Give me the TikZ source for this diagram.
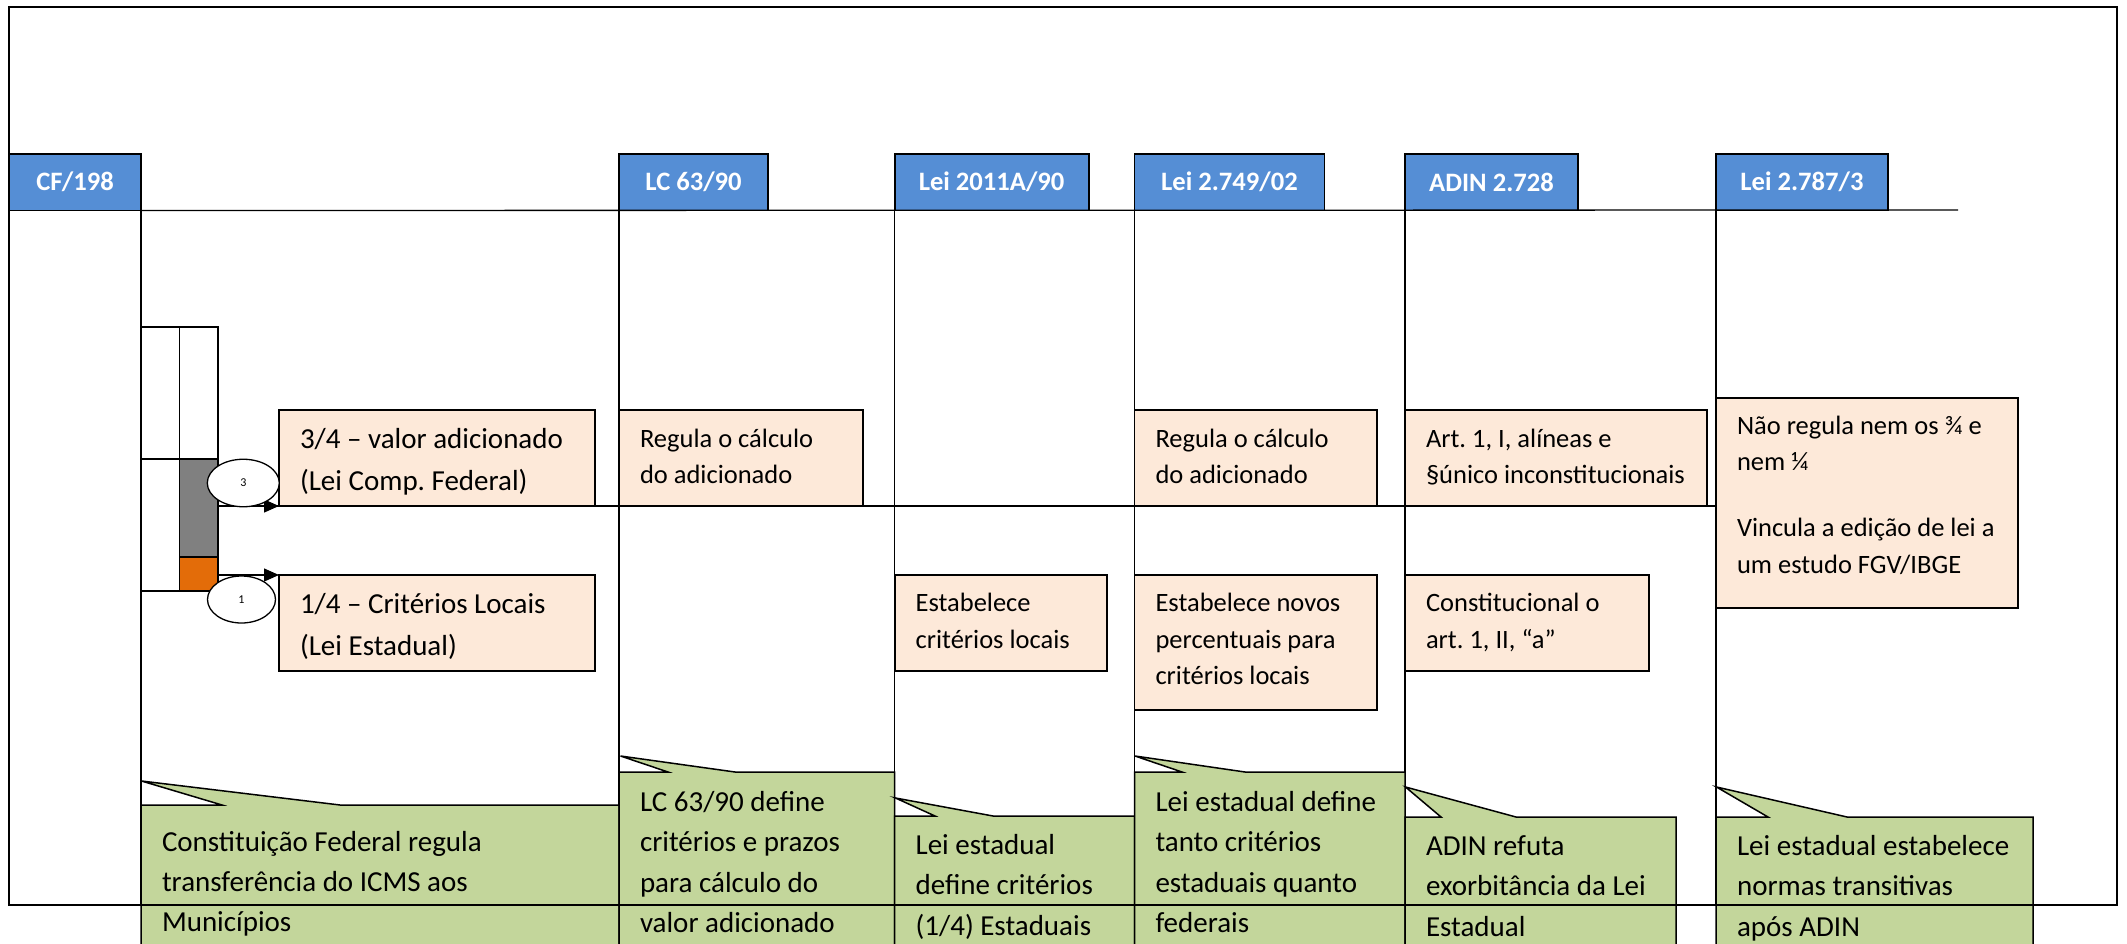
\documentclass[tikz,border=0pt]{standalone}
\usepackage{fontspec}
\setmainfont{Carlito}
\usetikzlibrary{arrows.meta,shapes.geometric}
\definecolor{hblue}{RGB}{85,142,213}
\definecolor{peach}{RGB}{253,233,217}
\definecolor{cgreen}{RGB}{195,214,155}
\definecolor{bargrey}{RGB}{128,128,128}
\definecolor{barorange}{RGB}{227,108,9}
\newcommand{\fl}[1]{\rule{0pt}{#1pt}}
\frenchspacing
\begin{document}
\begin{tikzpicture}[x=1pt,y=-1pt,
  ln/.style={line width=1.3pt, draw=black},
  hdr/.style={draw=black, line width=1.8pt, fill=hblue, text=white, font=\fontsize{26.6}{32}\selectfont\bfseries, inner sep=0pt, outer sep=0pt, anchor=north west, minimum height=56.5pt},
  pbox/.style={draw=black, line width=1.8pt, fill=peach, inner sep=0pt, outer sep=0pt, anchor=north west},
  ta/.style={anchor=north west, inner sep=0pt, outer sep=0pt, align=left, font=\fontsize{29}{40.5}\selectfont},
  tb/.style={anchor=north west, inner sep=0pt, outer sep=0pt, align=left, font=\fontsize{26.5}{36.5}\selectfont},
  callout/.style={draw=black, line width=1.5pt, fill=cgreen, line join=miter},
  barcell/.style={draw=black, line width=1.5pt, inner sep=0pt, outer sep=0pt, anchor=north west, minimum width=38.5pt},
  oval/.style={ellipse, draw=black, line width=1.3pt, fill=white, inner sep=0pt, outer sep=0pt, font=\fontsize{12}{14}\selectfont},
  arr/.style={line width=1.3pt, -{Triangle[length=15pt,width=13pt]}}
]
\useasboundingbox (0,0) rectangle (2127,944);
\clip (0,0) rectangle (2127,944);
\fill[white] (0,0) rectangle (2127,944);

% headers
\node[hdr, minimum width=132pt] (hCF) at (9,154) {CF/198};
\node[hdr, minimum width=149pt] (hLC) at (619,154) {LC 63/90};
\node[hdr, minimum width=194pt] (hLA) at (894.6,154) {Lei 2011A/90};
\node[hdr, minimum width=190pt] (hLB) at (1134.5,154) {Lei 2.749/02};
\node[hdr, minimum width=173pt] (hAD) at (1405,154) {ADIN 2.728};
\node[hdr, minimum width=172pt] (hLD) at (1716,154) {Lei 2.787/3};

% timeline and vertical lines
\coordinate (tlend) at (1958,210);
\draw[ln] (hCF.south east) -- (tlend);
\draw[ln] (hCF.south east) -- (141,905);
\draw[ln] (hLC.south west) -- (619,905);
\draw[ln] (hLA.south west) -- (894.6,905);
\draw[ln] (hLB.south west) -- (1134.5,905);
\draw[ln] (hAD.south west) -- (1405,905);
\draw[ln] (hLD.south west) -- (1716,905);

% middle line
\coordinate (mlA) at (218,506);
\coordinate (mlB) at (1716,506);
\draw[ln] (mlA) -- (mlB);

% bar
\node[barcell, fill=white, minimum height=132pt] (c1) at (141,327) {};
\node[barcell, fill=white, minimum height=132pt] (c2) at (179.5,327) {};
\node[barcell, fill=white, minimum height=132pt] (c3) at (141,459) {};
\node[barcell, fill=bargrey, minimum height=98pt] (c4) at (179.5,459) {};
\node[barcell, fill=barorange, minimum height=34pt] (c5) at (179.5,557) {};

% peach boxes
\node[pbox, minimum width=316pt, minimum height=96pt] (b34) at (279,410) {};
\node[ta, font=\fontsize{29}{42}\selectfont] (t34) at (300,410) {\fl{38}3/4 – valor adicionado\\(Lei Comp. Federal)};
\node[pbox, minimum width=316pt, minimum height=96pt] (b14) at (279,575) {};
\node[ta, font=\fontsize{29}{42}\selectfont] (t14) at (300,575) {\fl{38}1/4 – Critérios Locais\\(Lei Estadual)};

\node[pbox, minimum width=244pt, minimum height=96pt] (bR1) at (619,410) {};
\node[tb] (tR1) at (640,410) {\fl{37}Regula o cálculo\\do adicionado};
\node[pbox, minimum width=212pt, minimum height=96pt] (bE1) at (894.6,575) {};
\node[tb] (tE1) at (915.6,575) {\fl{36.5}Estabelece\\critérios locais};
\node[pbox, minimum width=242.5pt, minimum height=96pt] (bR2) at (1134.5,410) {};
\node[tb] (tR2) at (1155.5,410) {\fl{37}Regula o cálculo\\do adicionado};
\node[pbox, minimum width=242.5pt, minimum height=135pt] (bE2) at (1134.5,575) {};
\node[tb] (tE2) at (1155.5,575) {\fl{36.5}Estabelece novos\\percentuais para\\critérios locais};
\node[pbox, minimum width=302pt, minimum height=96pt] (bA) at (1405,410) {};
\node[tb] (tA) at (1426,410) {\fl{37}Art. 1, I, alíneas e\\§único inconstitucionais};
\node[pbox, minimum width=244pt, minimum height=96pt] (bC) at (1405,575) {};
\node[tb] (tC) at (1426,575) {\fl{36.5}Constitucional o\\art. 1, II, “a”};
\node[pbox, minimum width=302pt, minimum height=210pt] (bN) at (1716,398) {};
\node[tb] (tN) at (1737,398) {\fl{36}Não regula nem os ¾ e\\nem ¼\\[29.5pt]Vincula a edição de lei a\\um estudo FGV/IBGE};

% arrows
\draw[arr] (c4.east |- b34.south) -- (b34.south west);
\draw[arr] (c5.east |- b14.north) -- (b14.north west);

% ovals
\node[oval, minimum width=72pt, minimum height=47.5pt] (e3) at (243.3,483) {3};
\node[oval, minimum width=68pt, minimum height=47pt] (e1) at (241.5,599.5) {1};

% callouts
\draw[callout] (141,805) -- (222,805) -- (141.5,781) -- (340,805) -- (619,805) -- (619,960) -- (141,960) -- cycle;
\node[ta, font=\fontsize{29}{40}\selectfont] (tCF) at (162,805) {\fl{46}Constituição Federal regula\\transferência do ICMS aos\\Municípios};

\draw[callout] (619,772) -- (668,772) -- (620.5,756) -- (735,772) -- (894.6,772) -- (894.6,960) -- (619,960) -- cycle;
\node[ta] (tLC) at (640,772) {\fl{39}LC 63/90 define\\critérios e prazos\\para cálculo do\\valor adicionado};

\draw[callout] (894.6,816) -- (935,816) -- (895.5,798) -- (993,816) -- (1134.5,816) -- (1134.5,960) -- (894.6,960) -- cycle;
\node[ta] (tLA) at (915.6,816) {\fl{38}Lei estadual\\define critérios\\(1/4) Estaduais};

\draw[callout] (1134.5,772) -- (1182,772) -- (1135,756) -- (1245,772) -- (1405,772) -- (1405,960) -- (1134.5,960) -- cycle;
\node[ta] (tLB) at (1155.5,772) {\fl{39}Lei estadual define\\tanto critérios\\estaduais quanto\\federais};

\draw[callout] (1405,817) -- (1441,817) -- (1405.5,787) -- (1516,817) -- (1676,817) -- (1676,960) -- (1405,960) -- cycle;
\node[ta] (tAD) at (1426,817) {\fl{38}ADIN refuta\\exorbitância da Lei\\Estadual};

\draw[callout] (1716,817) -- (1768,817) -- (1716.5,787) -- (1847,817) -- (2033,817) -- (2033,960) -- (1716,960) -- cycle;
\node[ta] (tLD) at (1737,817) {\fl{38}Lei estadual estabelece\\normas transitivas\\após ADIN};

% outer frame
\draw[line width=1.5pt] (9,7) rectangle (2117,905);
\end{tikzpicture}
\end{document}
